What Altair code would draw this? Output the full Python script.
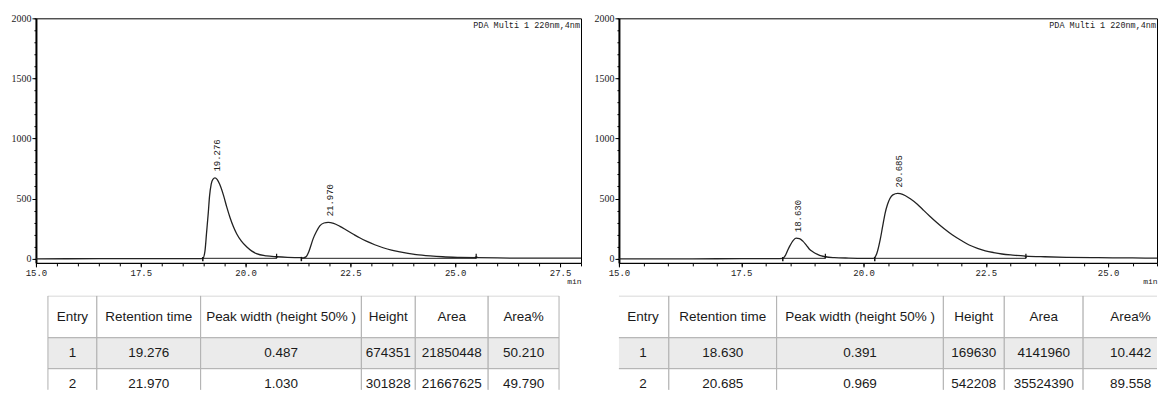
import altair as alt
import pandas as pd

# ---------------- data ----------------
# Left chromatogram (time in min, signal in mAU)
left_t = [15.0, 16.5, 18.0, 18.9, 18.98, 19.03, 19.07, 19.11, 19.14, 19.18, 19.22, 19.27, 19.32, 19.38,
          19.47, 19.55, 19.63, 19.71, 19.79, 19.9, 20.03, 20.15, 20.26, 20.5, 20.74, 21.0, 21.3, 21.38,
          21.44, 21.5, 21.55, 21.61, 21.69, 21.77, 21.87, 21.97, 22.1, 22.25, 22.4, 22.56, 22.72, 22.88,
          23.08, 23.28, 23.48, 23.68, 24.07, 24.4, 24.7, 25.1, 25.5, 26.0, 26.5, 27.0, 27.5, 28.0]
left_s = [-2, -1, 0, 0, 2, 60, 218, 380, 518, 620, 660, 672, 660, 620,
          530, 430, 340, 265, 205, 145, 96, 62, 41, 22, 15, 10, 7, 6,
          14, 50, 100, 164, 225, 272, 296, 302, 293, 268, 238, 205, 173, 145,
          115, 90, 70, 55, 33, 22, 15, 10, 7, 5, 4, 3, 3, 3]
left_start = [18.98, 21.33]
left_end = [20.74, 25.5]

# Right chromatogram
right_t = [15.0, 16.5, 17.5, 18.2, 18.35, 18.4, 18.45, 18.5, 18.56, 18.62, 18.69, 18.76, 18.83, 18.89,
           18.97, 19.06, 19.14, 19.22, 19.4, 19.7, 20.0, 20.2, 20.27, 20.34, 20.39, 20.44, 20.49, 20.54,
           20.6, 20.7, 20.8, 20.95, 21.1, 21.22, 21.35, 21.48, 21.65, 21.82, 22.0, 22.16, 22.33, 22.49,
           22.66, 22.83, 23.05, 23.32, 23.7, 24.17, 24.8, 25.5, 26.0]
right_s = [-3, -2, -1, 0, 2, 25, 70, 110, 150, 170, 166, 145, 112, 80,
           55, 35, 22, 15, 8, 4, 2, 2, 40, 155, 265, 375, 450, 500,
           530, 542, 535, 500, 452, 405, 355, 307, 248, 196, 150, 113, 85, 65,
           50, 38, 29, 21, 15, 10, 7, 5, 4]
right_start = [18.35, 20.23]
right_end = [19.22, 23.32]

# Tables
headers = ["Entry", "Retention time", "Peak width (height 50% )", "Height", "Area", "Area%"]
entries = ["1", "2"]
left_rt = ["19.276", "21.970"]
left_pw = ["0.487", "1.030"]
left_h = ["674351", "301828"]
left_area = ["21850448", "21667625"]
left_pct = ["50.210", "49.790"]
right_rt = ["18.630", "20.685"]
right_pw = ["0.391", "0.969"]
right_h = ["169630", "542208"]
right_area = ["4141960", "35524390"]
right_pct = ["10.442", "89.558"]

detector = "PDA Multi 1 220nm,4nm"

# ---------------- style / layout ----------------
MONO = "Liberation Mono"
SERIF = "Liberation Serif"
SANS = "Liberation Sans"
CH_H = 245
Y_DOM = [-36, 2000]
L_W, R_W = 546, 539
TBL_H = 94
ROW_EDGES = [0, 42, 73, 104]
L_COLS = [12, 61, 165, 326, 380, 453, 524]
R_COLS = [-2, 50, 158, 325, 386, 465, 560]
START_MARK = (-22, 14)   # marker extents in signal units
END_MARK = (2, 40)


def chromatogram(ts, ss, starts, ends, rts, hts, xmax, width, major):
    df = pd.DataFrame({"t": ts, "s": ss})
    xs = alt.Scale(domain=[15, xmax], nice=False, zero=False)
    ys = alt.Scale(domain=Y_DOM, nice=False, zero=False)
    minor_x = [15 + 0.5 * i for i in range(int((xmax - 15) / 0.5) + 1)]
    minor_y = list(range(0, 2001, 100))
    x_major = alt.Axis(values=major, format=".1f", labelFont=MONO, labelFontSize=9, labelColor="#222",
                       tickSize=4, tickColor="#000", domainColor="#000", domainWidth=1, grid=False,
                       labelPadding=2, labelFlush=False, title="min", titleFont=MONO, titleFontSize=8,
                       titleFontWeight="normal", titleColor="#222", titleAnchor="end", titleAlign="right",
                       titlePadding=0, orient="bottom")
    y_major = alt.Axis(values=[0, 500, 1000, 1500, 2000], format="d", labelFont=SERIF, labelFontSize=10,
                       labelColor="#222", tickSize=4, tickColor="#000", domainColor="#000", domainWidth=2,
                       grid=False, labelPadding=1, title=None, orient="left")
    x_minor = alt.Axis(values=minor_x, labels=False, domain=False, tickSize=3, tickColor="#000",
                       grid=False, title=None, orient="bottom")
    y_minor = alt.Axis(values=minor_y, labels=False, domain=False, tickSize=2, tickColor="#000",
                       grid=False, title=None, orient="left")

    def X(f):
        return alt.X(f, scale=xs, axis=x_major)

    def Y(f):
        return alt.Y(f, scale=ys, axis=y_major)

    curve = alt.Chart(df).mark_line(color="#222", strokeWidth=1.3, interpolate="monotone", clip=True).encode(
        x=X("t:Q"), y=Y("s:Q"))

    mk = pd.DataFrame({"a": starts, "b": ends, "lvl": [2] * len(starts)})
    base_line = alt.Chart(mk).mark_rule(color="#222", strokeWidth=1).encode(
        x=X("a:Q"), x2="b:Q", y=Y("lvl:Q"))
    st = alt.Chart(pd.DataFrame({"t": starts, "lo": [START_MARK[0]] * len(starts),
                                 "hi": [START_MARK[1]] * len(starts)})).mark_rule(
        color="#111", strokeWidth=1.5).encode(x=X("t:Q"), y=Y("lo:Q"), y2="hi:Q")
    en = alt.Chart(pd.DataFrame({"t": ends, "lo": [END_MARK[0]] * len(ends),
                                 "hi": [END_MARK[1]] * len(ends)})).mark_rule(
        color="#111", strokeWidth=1.2).encode(x=X("t:Q"), y=Y("lo:Q"), y2="hi:Q")
    en_head = alt.Chart(pd.DataFrame({"t": ends, "lvl": [8] * len(ends)})).mark_point(
        shape="triangle-down", filled=True, color="#111", size=10).encode(x=X("t:Q"), y=Y("lvl:Q"))

    lab = pd.DataFrame({"t": [float(v) for v in rts], "h": [float(v) / 1000 for v in hts], "txt": rts})
    labels = alt.Chart(lab).mark_text(angle=270, align="left", baseline="middle", dx=6, dy=2,
                                      font=MONO, fontSize=9, color="#222").encode(
        x=X("t:Q"), y=Y("h:Q"), text="txt:N")
    det = alt.Chart(pd.DataFrame({"x": [xmax], "y": [2000], "txt": [detector]})).mark_text(
        align="right", baseline="top", dx=-1, dy=3, font=MONO, fontSize=8.5, color="#222").encode(
        x=X("x:Q"), y=Y("y:Q"), text="txt:N")

    main = alt.layer(curve, base_line, st, en, en_head, labels, det)
    minor = alt.Chart(df).mark_line(strokeOpacity=0).encode(
        x=alt.X("t:Q", scale=xs, axis=x_minor), y=alt.Y("s:Q", scale=ys, axis=y_minor))

    return alt.layer(main, minor).resolve_axis(x="independent", y="independent").properties(
        width=width, height=CH_H, view=alt.ViewBackground(stroke="#000", strokeWidth=1))


def table(cols, rt, pw, h, area, pct, width):
    rows = [headers] + [[entries[i], rt[i], pw[i], h[i], area[i], pct[i]] for i in range(len(entries))]
    fills = ["#ffffff", "#ebebeb", "#ffffff"]
    recs = []
    for r, row in enumerate(rows):
        for c, txt in enumerate(row):
            recs.append({"x0": cols[c], "x1": cols[c + 1], "y0": ROW_EDGES[r], "y1": ROW_EDGES[r + 1],
                         "xc": (cols[c] + cols[c + 1]) / 2, "yc": (ROW_EDGES[r] + ROW_EDGES[r + 1]) / 2,
                         "txt": txt, "fill": fills[r]})
    df = pd.DataFrame(recs)
    xs = alt.Scale(domain=[0, width], nice=False, zero=False)
    ys = alt.Scale(domain=[0, TBL_H], reverse=True, nice=False, zero=False)
    cells = alt.Chart(df).mark_rect(stroke="#b0b0b0", strokeWidth=1, clip=True).encode(
        x=alt.X("x0:Q", scale=xs, axis=None), x2="x1:Q",
        y=alt.Y("y0:Q", scale=ys, axis=None), y2="y1:Q",
        fill=alt.Fill("fill:N", scale=None))
    texts = alt.Chart(df).mark_text(font=SANS, fontSize=13.5, color="#1a1a1a", align="center",
                                    baseline="middle", clip=True).encode(
        x=alt.X("xc:Q", scale=xs, axis=None), y=alt.Y("yc:Q", scale=ys, axis=None), text="txt:N")
    return alt.layer(cells, texts).properties(width=width, height=TBL_H,
                                              view=alt.ViewBackground(stroke=None))


left_chart = alt.vconcat(
    chromatogram(left_t, left_s, left_start, left_end, left_rt, left_h, 28.0, L_W,
                 [15, 17.5, 20, 22.5, 25, 27.5]),
    table(L_COLS, left_rt, left_pw, left_h, left_area, left_pct, L_W), spacing=9)
right_chart = alt.vconcat(
    chromatogram(right_t, right_s, right_start, right_end, right_rt, right_h, 26.0, R_W,
                 [15, 17.5, 20, 22.5, 25]),
    table(R_COLS, right_rt, right_pw, right_h, right_area, right_pct, R_W), spacing=9)

chart = alt.hconcat(left_chart, right_chart, spacing=11).properties(
    padding={"left": 2, "top": 4, "right": 0, "bottom": 0},
    background="#ffffff").configure_view(stroke=None)

chart.save("out.html", embed_options={"renderer": "svg", "actions": False})
